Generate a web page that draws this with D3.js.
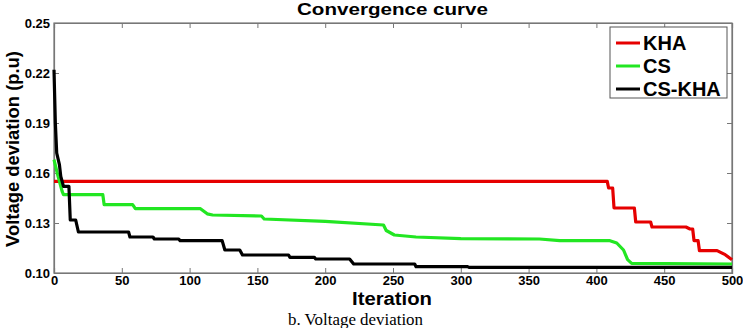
<!DOCTYPE html>
<html>
<head>
<meta charset="utf-8">
<script src="https://cdn.jsdelivr.net/npm/d3@7"></script>
<style>
  body { margin: 0; background: #fff; }
  svg { display: block; }
</style>
</head>
<body>
<div id="main"></div>
<script>
const ctx = { w: 743, h: 328 };
const margin = { top: 23, right: 11, bottom: 55, left: 54 };

const xTicks = [0, 50, 100, 150, 200, 250, 300, 350, 400, 450, 500];
const yTicks = [0.10, 0.13, 0.16, 0.19, 0.22, 0.25];
const seriesNames = ['KHA', 'CS', 'CS-KHA'];
const seriesColors = ['#e60000', '#22e622', '#000000'];

// [iteration, voltage deviation]
const khaData = [
  [0, 0.155], [408, 0.155], [409, 0.151], [412, 0.151], [413, 0.139], [428, 0.139],
  [429, 0.1306], [440, 0.1306], [441, 0.1276], [466, 0.1276], [469, 0.1264],
  [471, 0.1264], [472, 0.1194], [475, 0.1194], [476, 0.1134], [489, 0.1134],
  [495, 0.111], [500, 0.108]
];
const csData = [
  [0, 0.168], [3, 0.158], [6, 0.149], [7, 0.147], [36, 0.147], [37, 0.141],
  [58, 0.141], [60, 0.1386], [108, 0.1386], [113, 0.1355], [117, 0.1348],
  [153, 0.1342], [155, 0.1324], [200, 0.131], [243, 0.1288], [245, 0.1255],
  [251, 0.1228], [267, 0.1216], [300, 0.1206], [358, 0.1204], [373, 0.1194],
  [410, 0.1194], [415, 0.118], [420, 0.1138], [423, 0.108], [426, 0.1058],
  [500, 0.1054]
];
const cskhaData = [
  [0, 0.222], [1, 0.19], [2, 0.172], [4, 0.165], [5, 0.158], [7, 0.152],
  [11, 0.152], [12, 0.1318], [16, 0.1318], [18, 0.1246], [55, 0.1246],
  [56, 0.1216], [73, 0.1216], [74, 0.1204], [92, 0.1204], [93, 0.1194],
  [124, 0.1194], [126, 0.1138], [137, 0.1138], [139, 0.1108], [173, 0.1108],
  [174, 0.1094], [192, 0.1094], [193, 0.1084], [218, 0.1084], [221, 0.1054],
  [266, 0.1054], [267, 0.1038], [305, 0.1038], [306, 0.1034], [500, 0.1034]
];
const allSeries = [khaData, csData, cskhaData];

const iw = ctx.w - margin.left - margin.right;
const ih = ctx.h - margin.top - margin.bottom;

const svg = d3.select("#main").append("svg")
  .attr("width", ctx.w)
  .attr("height", ctx.h);
const g = svg.append("g").attr("transform", `translate(${margin.left},${margin.top})`);

const x = d3.scaleLinear().domain([0, 500]).range([0, iw]);
const y = d3.scaleLinear().domain([0.10, 0.25]).range([ih, 0]);

const font = "Arial, 'Liberation Sans', sans-serif";
const axisColor = "#777";

// frame
g.append("rect")
  .attr("x", 0).attr("y", 0).attr("width", iw).attr("height", ih)
  .attr("fill", "none").attr("stroke", axisColor).attr("stroke-width", 1.2);

// bottom axis
const xAxis = g.append("g").attr("transform", `translate(0,${ih})`)
  .call(d3.axisBottom(x).tickValues(xTicks).tickSize(-5).tickPadding(3).tickFormat(d3.format("d")));
// top ticks
const xTop = g.append("g")
  .call(d3.axisTop(x).tickValues(xTicks).tickSize(-5).tickFormat(""));
// left axis
const yAxis = g.append("g")
  .call(d3.axisLeft(y).tickValues(yTicks).tickSize(-5).tickPadding(4).tickFormat(d3.format(".2f")));
// right ticks
const yRight = g.append("g").attr("transform", `translate(${iw},0)`)
  .call(d3.axisRight(y).tickValues(yTicks).tickSize(-5).tickFormat(""));

[xAxis, xTop, yAxis, yRight].forEach(a => {
  a.select(".domain").attr("stroke", axisColor).attr("stroke-width", 1.2);
  a.selectAll(".tick line").attr("stroke", axisColor);
  a.selectAll("text")
    .attr("fill", "#000")
    .style("font-family", font)
    .style("font-size", "13px")
    .style("font-weight", "bold");
});

// lines
const line = d3.line().x(d => x(d[0])).y(d => y(d[1]));
allSeries.forEach((s, i) => {
  g.append("path")
    .datum(s)
    .attr("fill", "none")
    .attr("stroke", seriesColors[i])
    .attr("stroke-width", 3.2)
    .attr("stroke-linejoin", "round")
    .attr("d", line);
});

// legend
const lg = svg.append("g").attr("transform", "translate(610,27)");
lg.append("rect")
  .attr("width", 117).attr("height", 71)
  .attr("fill", "#fff").attr("stroke", "#555").attr("stroke-width", 1);
seriesNames.forEach((name, i) => {
  const yy = 16 + i * 23;
  lg.append("line")
    .attr("x1", 6).attr("x2", 30).attr("y1", yy).attr("y2", yy)
    .attr("stroke", seriesColors[i]).attr("stroke-width", 3);
  lg.append("text")
    .attr("x", 33).attr("y", yy + 7)
    .style("font-family", font).style("font-size", "20px").style("font-weight", "bold")
    .text(name);
});

// title and labels
svg.append("text")
  .attr("x", 297).attr("y", 15)
  .attr("textLength", 191).attr("lengthAdjust", "spacingAndGlyphs")
  .style("font-family", font).style("font-size", "17px").style("font-weight", "bold")
  .text("Convergence curve");

svg.append("text")
  .attr("x", 352).attr("y", 305)
  .attr("textLength", 80).attr("lengthAdjust", "spacingAndGlyphs")
  .style("font-family", font).style("font-size", "18px").style("font-weight", "bold")
  .text("Iteration");

svg.append("text")
  .attr("transform", `translate(19,247) rotate(-90)`)
  .attr("textLength", 196).attr("lengthAdjust", "spacingAndGlyphs")
  .style("font-family", font).style("font-size", "19px").style("font-weight", "bold")
  .text("Voltage deviation (p.u)");

svg.append("text")
  .attr("x", 288).attr("y", 325)
  .attr("textLength", 135).attr("lengthAdjust", "spacingAndGlyphs")
  .style("font-family", "'Liberation Serif', 'Times New Roman', serif").style("font-size", "16px")
  .text("b. Voltage deviation");
</script>
</body>
</html>
